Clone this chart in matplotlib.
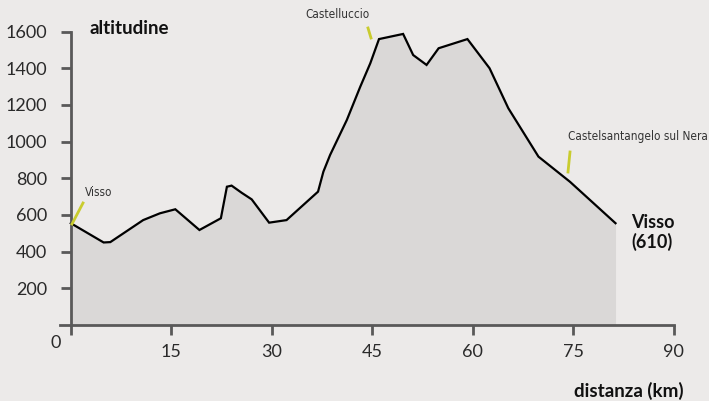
import matplotlib
matplotlib.use("Agg")
import matplotlib.pyplot as plt
from matplotlib import font_manager

# Data (distance km, altitude m)
distance_km = [0, 4.9, 5.9, 10.8, 13.3, 15.6, 19.2, 22.4, 23.3, 24.0, 25.5, 27.0,
               29.6, 32.2, 36.9, 37.7, 38.7, 41.2, 43.2, 44.7, 46.0, 49.6, 51.1,
               53.1, 54.9, 59.2, 62.5, 65.3, 69.8, 74.5, 81.3]
altitude_m = [555, 450, 452, 572, 609, 631, 518, 582, 754, 760, 721, 685,
              558, 572, 727, 836, 927, 1118, 1299, 1427, 1559, 1587, 1472,
              1418, 1509, 1559, 1400, 1182, 918, 781, 555]
x_ticks = [0, 15, 30, 45, 60, 75, 90]
x_tick_labels = ["", "15", "30", "45", "60", "75", "90"]
y_ticks = [200, 400, 600, 800, 1000, 1200, 1400, 1600]

BG = "#ECEAE9"
FILL = "#DAD8D7"
AXC = "#595959"
YEL = "#C9CC2E"

W, H = 709, 401
fig = plt.figure(figsize=(W / 100, H / 100), dpi=100, facecolor=BG)

xmin, xmax = -1.6, 91.0
ymin, ymax = 0, 1750
left = (70.8 + 6.7 * xmin) / W
right = (70.8 + 6.7 * xmax) / W
bottom = (H - 325) / H
top = (H - (325 - 0.1834 * ymax)) / H
ax = fig.add_axes([left, bottom, right - left, top - bottom])
ax.set_facecolor(BG)
ax.set_xlim(xmin, xmax)
ax.set_ylim(ymin, ymax)

ax.fill_between(distance_km, altitude_m, 0, color=FILL, lw=0, zorder=1)
ax.plot(distance_km, altitude_m, color="black", lw=1.6, solid_joinstyle="miter", zorder=3)

for s in ["top", "right"]:
    ax.spines[s].set_visible(False)
ax.spines["left"].set_position(("data", 0))
ax.spines["left"].set_bounds(0, 1600)
ax.spines["bottom"].set_bounds(xmin, 90)
for s in ["left", "bottom"]:
    ax.spines[s].set_color(AXC)
    ax.spines[s].set_linewidth(2.0)
    ax.spines[s].set_zorder(4)

font = "Lato"
ax.set_xticks(x_ticks)
ax.set_xticklabels(x_tick_labels, fontsize=13, family=font, color="#2a2a2a")
ax.set_yticks(y_ticks)
ax.set_yticklabels([str(v) for v in y_ticks], fontsize=13, family=font, color="#2a2a2a")
ax.tick_params(axis="x", direction="out", length=7, width=2, color=AXC, pad=7)
ax.tick_params(axis="y", direction="out", length=7, width=2, color=AXC, pad=10)

def px(xp, yp):
    return xp / W, 1 - yp / H

fig.text(*px(56, 343), "0", fontsize=13, family=font, color="#2a2a2a", ha="center", va="center")
fig.text(*px(90, 29), "altitudine", fontsize=13.5, family=font, weight="bold", ha="left", va="center", color="#111")
fig.text(*px(684, 391), "distanza (km)", fontsize=13.5, family=font, weight="bold", ha="right", va="center", color="#111")
fig.text(*px(631, 222), "Visso", fontsize=13, family=font, weight="bold", ha="left", va="center", color="#111")
fig.text(*px(631, 242), "(610)", fontsize=13, family=font, weight="bold", ha="left", va="center", color="#111")

narrow = "DejaVu Sans"
fig.text(*px(85, 193), "Visso", fontsize=8.5, family=narrow, stretch="condensed", ha="left", va="center", color="#333")
fig.text(*px(305, 15), "Castelluccio", fontsize=8.5, family=narrow, stretch="condensed", ha="left", va="center", color="#333")
fig.text(*px(568, 137), "Castelsantangelo sul Nera", fontsize=8.5, family=narrow, stretch="condensed", ha="left", va="center", color="#333")

from matplotlib.lines import Line2D
for (x0, y0, x1, y1) in [(72, 224, 83, 203), (368, 28, 371, 38), (570, 152, 568, 172)]:
    fig.add_artist(Line2D([x0 / W, x1 / W], [1 - y0 / H, 1 - y1 / H], color=YEL, lw=2, transform=fig.transFigure, zorder=5))

fig.savefig("out.png", dpi=100, facecolor=BG)
